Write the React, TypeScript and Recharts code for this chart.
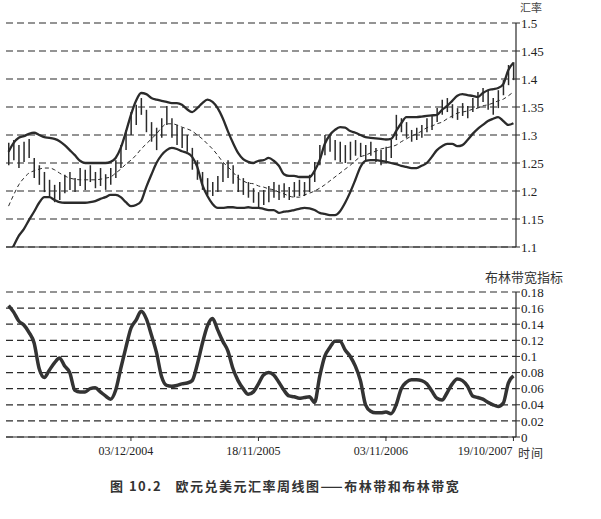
import React from 'react';
import { ComposedChart, Bar, Line, XAxis, YAxis, CartesianGrid } from 'recharts';

// ~2-week steps from Dec 2003 to Oct 2007
const highs = [1.286,1.291,1.282,1.288,1.293,1.259,1.246,1.234,1.220,1.211,
 1.216,1.229,1.234,1.223,1.241,1.238,1.246,1.234,1.241,1.230,
 1.241,1.255,1.282,1.309,1.341,1.354,1.366,1.345,1.323,1.313,
 1.330,1.352,1.330,1.318,1.313,1.300,1.277,1.255,1.234,1.223,
 1.216,1.227,1.250,1.255,1.246,1.229,1.223,1.216,1.205,1.198,
 1.202,1.209,1.216,1.211,1.214,1.207,1.216,1.220,1.216,1.229,
 1.252,1.282,1.300,1.302,1.291,1.288,1.282,1.288,1.291,1.286,
 1.282,1.288,1.277,1.273,1.279,1.291,1.336,1.330,1.323,1.309,
 1.313,1.318,1.330,1.336,1.348,1.363,1.366,1.355,1.348,1.357,
 1.352,1.366,1.377,1.384,1.380,1.366,1.380,1.398,1.425,1.430];

const lows = [1.246,1.255,1.241,1.252,1.259,1.223,1.211,1.198,1.188,1.180,
 1.184,1.196,1.202,1.198,1.209,1.202,1.216,1.205,1.209,1.202,
 1.211,1.223,1.241,1.273,1.300,1.318,1.336,1.305,1.288,1.273,
 1.295,1.318,1.295,1.282,1.277,1.270,1.238,1.220,1.202,1.193,
 1.191,1.198,1.216,1.223,1.213,1.198,1.193,1.188,1.179,1.171,
 1.175,1.180,1.188,1.184,1.188,1.184,1.189,1.191,1.191,1.198,
 1.216,1.246,1.264,1.270,1.255,1.252,1.250,1.255,1.263,1.261,
 1.255,1.263,1.252,1.246,1.250,1.259,1.291,1.305,1.295,1.288,
 1.291,1.295,1.305,1.309,1.323,1.336,1.341,1.330,1.327,1.334,
 1.330,1.341,1.348,1.359,1.345,1.336,1.348,1.371,1.389,1.398];

const upperBand = [1.270,1.286,1.295,1.298,1.302,1.304,1.300,1.296,1.295,1.293,
 1.289,1.282,1.273,1.264,1.254,1.250,1.250,1.250,1.250,1.250,
 1.252,1.259,1.277,1.305,1.336,1.361,1.375,1.373,1.366,1.363,
 1.361,1.359,1.357,1.357,1.354,1.346,1.341,1.348,1.357,1.363,
 1.359,1.348,1.330,1.307,1.286,1.268,1.257,1.252,1.250,1.254,
 1.255,1.259,1.254,1.245,1.230,1.227,1.227,1.225,1.225,1.225,
 1.236,1.255,1.284,1.300,1.309,1.314,1.313,1.307,1.304,1.300,
 1.296,1.295,1.294,1.293,1.292,1.293,1.307,1.321,1.332,1.332,
 1.332,1.333,1.334,1.335,1.336,1.345,1.352,1.361,1.370,1.373,
 1.371,1.370,1.368,1.375,1.380,1.382,1.384,1.391,1.416,1.429];

const middleBand = [1.173,1.193,1.211,1.223,1.232,1.236,1.239,1.241,1.241,1.238,
 1.232,1.227,1.223,1.221,1.220,1.220,1.220,1.220,1.221,1.223,
 1.225,1.232,1.239,1.248,1.255,1.264,1.275,1.284,1.293,1.302,
 1.313,1.320,1.320,1.318,1.314,1.311,1.307,1.300,1.293,1.284,
 1.275,1.264,1.252,1.243,1.234,1.223,1.218,1.214,1.213,1.209,
 1.207,1.204,1.202,1.198,1.195,1.191,1.189,1.189,1.193,1.196,
 1.200,1.205,1.211,1.218,1.225,1.232,1.239,1.246,1.254,1.261,
 1.264,1.268,1.271,1.275,1.277,1.279,1.282,1.288,1.293,1.298,
 1.302,1.307,1.313,1.316,1.320,1.323,1.329,1.334,1.339,1.341,
 1.343,1.346,1.348,1.352,1.354,1.357,1.361,1.364,1.370,1.377];

const lowerBand = [1.086,1.102,1.120,1.132,1.148,1.163,1.179,1.189,1.189,1.184,
 1.180,1.179,1.179,1.179,1.179,1.179,1.180,1.182,1.186,1.189,
 1.193,1.193,1.189,1.180,1.173,1.175,1.182,1.207,1.229,1.250,
 1.264,1.273,1.277,1.275,1.271,1.268,1.261,1.243,1.211,1.191,
 1.177,1.170,1.170,1.171,1.171,1.170,1.170,1.171,1.170,1.170,
 1.168,1.166,1.166,1.161,1.163,1.164,1.166,1.168,1.170,1.169,
 1.166,1.161,1.159,1.157,1.157,1.164,1.179,1.198,1.220,1.243,
 1.254,1.255,1.255,1.254,1.252,1.250,1.248,1.245,1.243,1.241,
 1.241,1.245,1.250,1.261,1.273,1.280,1.284,1.284,1.280,1.282,
 1.291,1.302,1.311,1.318,1.325,1.329,1.332,1.325,1.318,1.321];

const bandWidth = [0.163,0.155,0.144,0.139,0.130,0.117,0.085,0.074,0.083,0.092,
 0.098,0.088,0.080,0.058,0.056,0.056,0.060,0.061,0.056,0.051,
 0.047,0.058,0.085,0.111,0.135,0.145,0.156,0.147,0.127,0.105,
 0.075,0.064,0.063,0.064,0.066,0.067,0.070,0.090,0.116,0.138,
 0.147,0.133,0.119,0.107,0.085,0.070,0.060,0.053,0.056,0.066,
 0.077,0.080,0.077,0.068,0.058,0.051,0.050,0.048,0.049,0.050,
 0.043,0.075,0.100,0.111,0.119,0.119,0.108,0.100,0.088,0.070,
 0.040,0.032,0.030,0.030,0.031,0.029,0.040,0.060,0.068,0.071,
 0.071,0.070,0.066,0.057,0.048,0.046,0.055,0.066,0.072,0.070,
 0.063,0.051,0.049,0.047,0.043,0.040,0.038,0.042,0.067,0.076];

const tickIndices = [24, 49, 74, 99];
const tickLabels = ['03/12/2004', '18/11/2005', '03/11/2006', '19/10/2007'];
const priceTicks = [1.1, 1.15, 1.2, 1.25, 1.3, 1.35, 1.4, 1.45, 1.5];
const widthTicks = [0, 0.02, 0.04, 0.06, 0.08, 0.1, 0.12, 0.14, 0.16, 0.18];

const data = highs.map((h, i) => ({
  i,
  range: [lows[i], h],
  upper: upperBand[i],
  middle: middleBand[i],
  lower: lowerBand[i],
  bw: bandWidth[i],
}));

const INK = '#2b2b2b';
const numFont = { fontFamily: '"Liberation Serif", serif', fontSize: 13, fill: '#222' };

const DateTick = (props: any) => {
  const { x, y, payload } = props;
  const k = tickIndices.indexOf(payload.value);
  if (k < 0) return <g />;
  const last = k === tickIndices.length - 1;
  return (
    <text x={x} y={y} dy={12} dx={last ? -1 : -5} textAnchor={last ? 'end' : 'middle'}
      style={{ fontFamily: '"Liberation Serif", serif', fontSize: 12, fill: '#222' }}>
      {tickLabels[k]}
    </text>
  );
};

const cjk = '"Noto Sans CJK SC", sans-serif';

export default function App() {
  return (
    <div style={{ position: 'absolute', left: 0, top: 0, width: 601, height: 519, background: '#fff', overflow: 'hidden' }}>
      <div style={{ position: 'absolute', left: 0, top: 0 }}>
        <ComposedChart width={601} height={262} data={data} margin={{ top: 23, right: 35, left: 6, bottom: 5 }}>
          <CartesianGrid xAxisId="b" yAxisId="r" vertical={false} stroke={INK} strokeWidth={1.2} strokeDasharray="7 4" />
          <XAxis xAxisId="t" dataKey="i" orientation="top" height={0} tick={false} tickLine={false} axisLine={{ stroke: INK, strokeWidth: 1.2 }} />
          <XAxis xAxisId="b" dataKey="i" height={10} ticks={tickIndices} interval={0} tick={false} tickSize={4} tickLine={{ stroke: INK }} axisLine={{ stroke: INK, strokeWidth: 1.2 }} />
          <YAxis yAxisId="l" orientation="left" width={0} domain={[1.1, 1.5]} allowDataOverflow tick={false} tickLine={false} axisLine={{ stroke: INK, strokeWidth: 1.2 }} />
          <YAxis yAxisId="r" orientation="right" width={50} domain={[1.1, 1.5]} ticks={priceTicks} allowDataOverflow interval={0}
            tick={numFont} tickSize={4} tickMargin={1} tickLine={{ stroke: INK }} axisLine={{ stroke: INK, strokeWidth: 1.2 }} />
          <Bar xAxisId="b" yAxisId="r" dataKey="range" barSize={1.5} fill={INK} isAnimationActive={false} />
          <Line xAxisId="b" yAxisId="r" dataKey="upper" type="monotone" stroke={INK} strokeWidth={2.3} dot={false} isAnimationActive={false} />
          <Line xAxisId="b" yAxisId="r" dataKey="lower" type="monotone" stroke={INK} strokeWidth={2.3} dot={false} isAnimationActive={false} />
          <Line xAxisId="b" yAxisId="r" dataKey="middle" type="monotone" stroke={INK} strokeWidth={1} strokeDasharray="4 3" dot={false} isAnimationActive={false} />
        </ComposedChart>
      </div>
      <div style={{ position: 'absolute', left: 0, top: 270 }}>
        <ComposedChart width={601} height={200} data={data} margin={{ top: 22, right: 35, left: 6, bottom: 3 }}>
          <CartesianGrid xAxisId="b" yAxisId="r" vertical={false} stroke={INK} strokeWidth={1.2} strokeDasharray="7 4" />
          <XAxis xAxisId="t" dataKey="i" scale="band" orientation="top" height={0} tick={false} tickLine={false} axisLine={{ stroke: INK, strokeWidth: 1.2 }} />
          <XAxis xAxisId="b" dataKey="i" scale="band" height={30} ticks={tickIndices} interval={0} tick={<DateTick />} tickSize={4} tickMargin={2} tickLine={{ stroke: INK }} axisLine={{ stroke: INK, strokeWidth: 1.2 }} />
          <YAxis yAxisId="l" orientation="left" width={0} domain={[0, 0.18]} tick={false} tickLine={false} axisLine={{ stroke: INK, strokeWidth: 1.2 }} />
          <YAxis yAxisId="r" orientation="right" width={50} domain={[0, 0.18]} ticks={widthTicks} interval={0}
            tick={numFont} tickSize={4} tickMargin={1} tickLine={{ stroke: INK }} axisLine={{ stroke: INK, strokeWidth: 1.2 }} />
          <Line xAxisId="b" yAxisId="r" dataKey="bw" type="monotone" stroke="#333" strokeWidth={3.5} dot={false} isAnimationActive={false} />
        </ComposedChart>
      </div>
      <div style={{ position: 'absolute', left: 520, top: 1, fontFamily: cjk, fontSize: 11, color: '#444', lineHeight: '13px' }}>汇率</div>
      <div style={{ position: 'absolute', left: 485, top: 268, fontFamily: cjk, fontSize: 13, color: '#333', lineHeight: '18px' }}>布林带宽指标</div>
      <div style={{ position: 'absolute', left: 518, top: 446, fontFamily: cjk, fontSize: 12, color: '#333', lineHeight: '14px', letterSpacing: 1 }}>时间</div>
      <div style={{ position: 'absolute', left: 110, top: 477, fontFamily: cjk, fontSize: 13, fontWeight: 700, color: '#333', lineHeight: '18px', letterSpacing: 1.5, whiteSpace: 'pre' }}>
        图 10.2   欧元兑美元汇率周线图——布林带和布林带宽
      </div>
    </div>
  );
}
